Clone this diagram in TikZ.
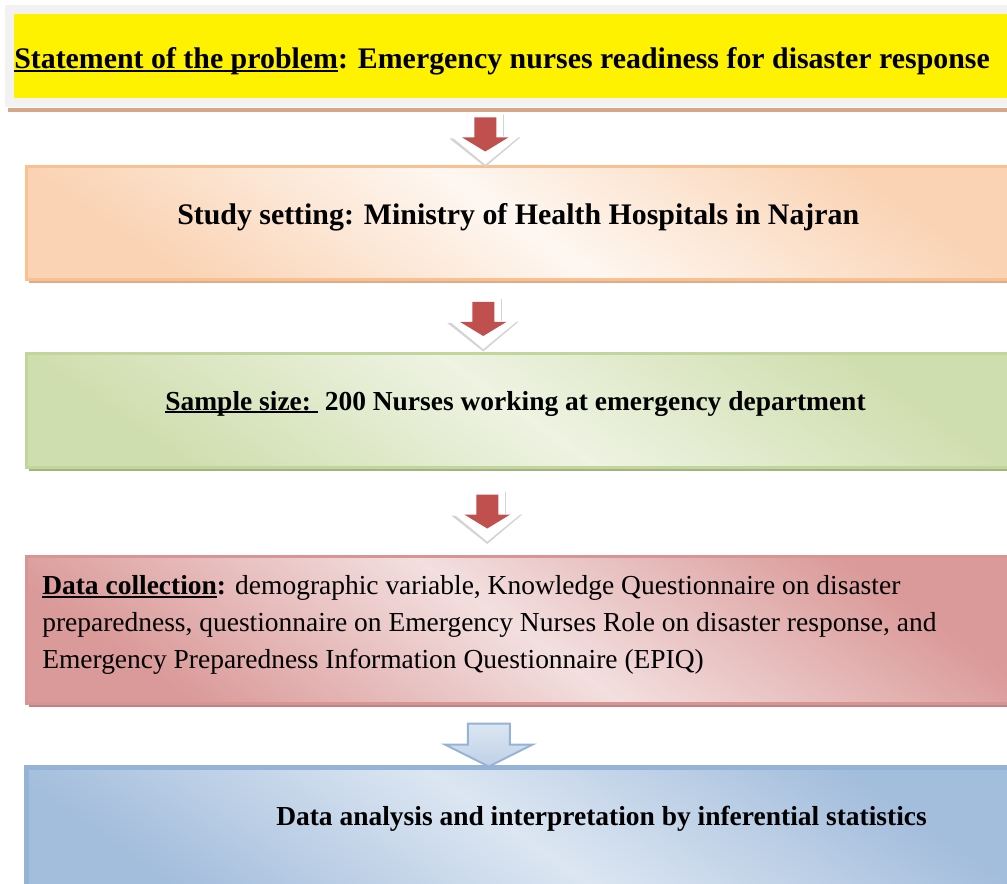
\documentclass[tikz,border=0pt]{standalone}
\usepackage{fontspec}
\setmainfont{Liberation Serif}
\usetikzlibrary{calc,fit}

\definecolor{problemgrey}{HTML}{F2F2F2}
\definecolor{problemshadow}{HTML}{D5A687}
\definecolor{settingedge}{HTML}{FAC08F}
\definecolor{settingdark}{HTML}{FAD3B4}
\definecolor{settinglight}{HTML}{FEF7F1}
\definecolor{settingshadow}{HTML}{DDAC8A}
\definecolor{sampleedge}{HTML}{C2D69B}
\definecolor{sampledark}{HTML}{CFDEAE}
\definecolor{samplelight}{HTML}{EEF3E2}
\definecolor{sampleshadow}{HTML}{A3B383}
\definecolor{collectedge}{HTML}{D99594}
\definecolor{collectdark}{HTML}{DA9A99}
\definecolor{collectlight}{HTML}{F3DFDF}
\definecolor{collectshadow}{HTML}{BC8584}
\definecolor{analysisedge}{HTML}{95B3D7}
\definecolor{analysisdark}{HTML}{A3BDDC}
\definecolor{analysislight}{HTML}{DCE6F2}
\definecolor{arrowred}{HTML}{C0504D}
\definecolor{arrowgrey}{HTML}{D4D4D4}

% underline close to the baseline
\newcommand{\ulined}[1]{\setbox0\hbox{#1}\rlap{\rule[-2.2pt]{\wd0}{1.1pt}}\box0}

\tikzset{
  box/.style={inner sep=0pt, outer sep=0pt},
  shadebox/.style 2 args={top color=#1, bottom color=#1, middle color=#2, shading angle=-35},
  bigtxt/.style={inner sep=0pt, font=\fontsize{22.4}{28}\selectfont\bfseries},
  boldtxt/.style={inner sep=0pt, font=\fontsize{20.6}{26}\selectfont\bfseries},
  plaintxt/.style={inner sep=0pt, align=left, font=\fontsize{20.6}{27.75}\selectfont},
  pics/redarrow/.style={code={
    \fill[arrowgrey] (-17.5,50) -- (18.5,50) -- (18.5,27) -- (35,27) -- (0,-2.5) -- (-36,26) -- (-17.5,26) -- cycle;
    \fill[white] (-17.5,52) -- (17.5,52) -- (17.5,28) -- (34,28) -- (0,0) -- (-34,28) -- (-17.5,28) -- cycle;
    \fill[arrowred] (-11,47) -- (11,47) -- (11,27) -- (23,27) -- (0,13) -- (-23,27) -- (-11,27) -- cycle;
  }},
  pics/bluearrow/.style={code={
    \draw[analysisedge, line width=1.5pt, top color=analysislight, bottom color=analysisdark!70] (-21,43) -- (21,43) -- (21,22) -- (44,22) -- (0,0) -- (-44,22) -- (-21,22) -- cycle;
  }},
}

\begin{document}
\begin{tikzpicture}[x=0.75pt,y=0.75pt,yscale=-1,xscale=1]
  \useasboundingbox (0,0) rectangle (1007,884);
  \clip (0,0) rectangle (1007,884);

  % statement of the problem
  \fill[problemshadow] (8,108) rectangle (1040,112);
  \node[box, fit={(9.5,10) (1040,103)}, draw=problemgrey, line width=6.75pt, fill=yellow] (problem) {};
  \node[bigtxt, anchor=base west] (problemtxt) at ($(problem.west)+(4.5,12.5)$)
    {\ulined{Statement of the problem}: Emergency nurses readiness for disaster response};

  % study setting
  \fill[settingshadow] (29,280) rectangle (1040,283.5);
  \node[box, fit={(26.5,166.5) (1010,280)}, draw=settingedge, line width=2.25pt, shadebox={settingdark}{settinglight}] (setting) {};
  \node[bigtxt, anchor=base] (settingtxt) at ($(setting.center)+(0,1.75)$)
    {Study setting: Ministry of Health Hospitals in Najran};

  % sample
  \fill[sampleshadow] (29,467.5) rectangle (1040,471);
  \node[box, fit={(26.5,354) (1010,467.5)}, draw=sampleedge, line width=2.25pt, shadebox={sampledark}{samplelight}] (sample) {};
  \node[boldtxt, anchor=base] (sampletxt) at ($(sample.center)+(-2.75,-0.75)$)
    {\ulined{Sample size:\ }\ 200 Nurses working at emergency department};

  % data collection
  \fill[collectshadow] (29,703) rectangle (1040,706.5);
  \node[box, fit={(26.5,556.5) (1010,703)}, draw=collectedge, line width=2.25pt, shadebox={collectdark}{collectlight}] (collect) {};
  \node[plaintxt, anchor=north west] (collecttxt) at ($(collect.north west)+(15.5,19)$)
    {\textbf{\ulined{Data collection}:} demographic variable, Knowledge Questionnaire on disaster\\
     preparedness, questionnaire on Emergency Nurses Role on disaster response, and\\
     Emergency Preparedness Information Questionnaire (EPIQ)};

  % analysis
  \node[box, fit={(26.5,767.5) (1010,900)}, draw=analysisedge, line width=3.75pt, shadebox={analysisdark}{analysislight}] (analysis) {};
  \node[boldtxt, anchor=base west] (analysistxt) at ($(analysis.west)+(249.5,-8.5)$)
    {Data analysis and interpretation by inferential statistics};

  % arrows
  \pic at ($(setting.north)+(-33,-2)$) {redarrow};
  \pic at ($(sample.north)+(-35,-5)$) {redarrow};
  \pic at ($(collect.north)+(-31,-15)$) {redarrow};
  \pic at ($(analysis.north)+(-29.5,-1)$) {bluearrow};
\end{tikzpicture}
\end{document}
